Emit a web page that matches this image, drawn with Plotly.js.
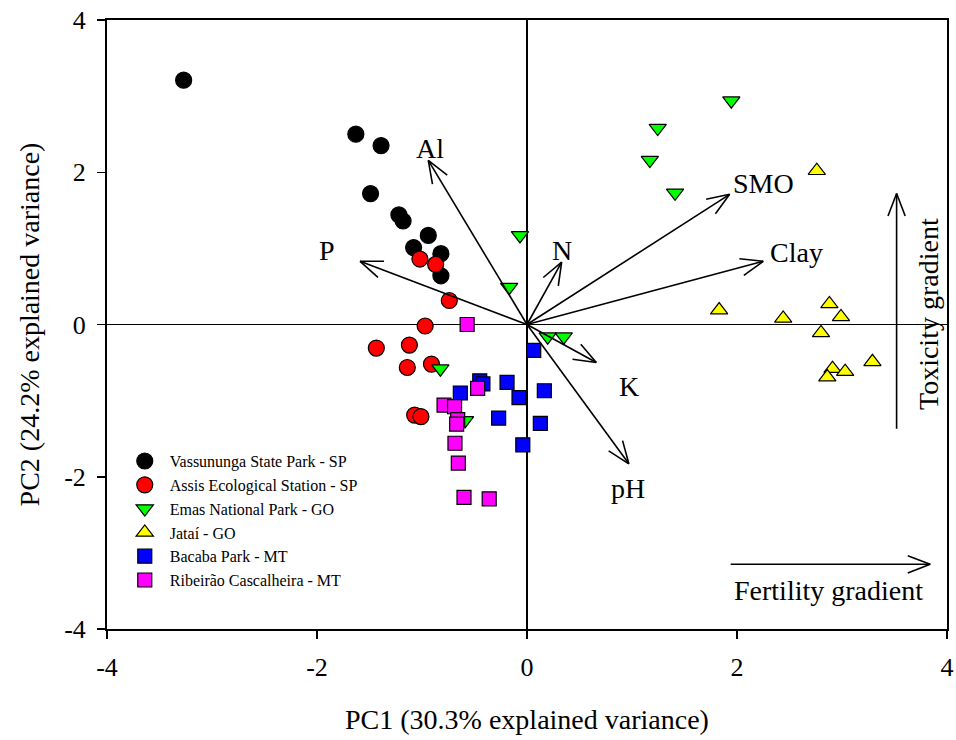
<!DOCTYPE html>
<html><head><meta charset="utf-8">
<script src="https://cdn.plot.ly/plotly-3.0.1.min.js"></script>
<style>body{margin:0;background:#fff}#chart{width:956px;height:740px}</style>
</head><body><div id="chart"></div>
<script>
// ---- data ----
const vassX = [-3.27, -1.63, -1.39, -1.49, -1.22, -1.18, -0.94, -1.08, -0.82, -0.82];
const vassY = [3.21, 2.50, 2.35, 1.72, 1.44, 1.36, 1.17, 1.01, 0.93, 0.64];
const assisX = [-1.02, -0.87, -0.74, -0.97, -1.435, -1.12, -1.14, -0.91, -1.07, -1.01];
const assisY = [0.86, 0.79, 0.315, -0.02, -0.31, -0.27, -0.565, -0.52, -1.19, -1.21];
const emasX = [1.946, 1.245, 1.17, 1.41, -0.067, -0.17, 0.197, 0.35, -0.825, -0.59];
const emasY = [2.94, 2.58, 2.16, 1.73, 1.17, 0.49, -0.16, -0.16, -0.58, -1.26];
const jataiX = [2.76, 1.83, 2.44, 2.88, 2.99, 2.80, 3.29, 2.91, 3.03, 2.86];
const jataiY = [2.02, 0.19, 0.08, 0.27, 0.10, -0.11, -0.49, -0.58, -0.62, -0.69];
const bacabaX = [0.064, -0.19, -0.076, 0.165, -0.27, 0.127, -0.04, -0.45, -0.42, -0.635];
const bacabaY = [-0.34, -0.76, -0.96, -0.87, -1.23, -1.30, -1.58, -0.74, -0.78, -0.90];
const ribX = [-0.57, -0.47, -0.79, -0.69, -0.66, -0.67, -0.686, -0.654, -0.60, -0.36];
const ribY = [0.0, -0.84, -1.06, -1.08, -1.25, -1.31, -1.56, -1.82, -2.27, -2.29];

const groupNames = ["Vassununga State Park - SP", "Assis Ecological Station - SP", "Emas National Park - GO",
  "Jataí - GO", "Bacaba Park - MT", "Ribeirão Cascalheira - MT"];

const vecNames = ["Al", "P", "N", "SMO", "Clay", "K", "pH"];
const vecX = [-0.94, -1.59, 0.33, 1.93, 2.25, 0.66, 0.97];
const vecY = [2.155, 0.83, 0.82, 1.71, 0.83, -0.50, -1.83];
const vecLabelX = [-0.92, -1.905, 0.333, 2.257, 2.57, 0.975, 0.965];
const vecLabelY = [2.31, 0.97, 0.97, 1.85, 0.95, -0.815, -2.16];

const gradNames = ["Toxicity gradient", "Fertility gradient"];
const gradX0 = [3.52, 1.94], gradY0 = [-1.37, -3.15];
const gradX1 = [3.52, 3.84], gradY1 = [1.72, -3.15];
const gradLabelX = [3.83, 2.87], gradLabelY = [0.14, -3.50];

const tickVals = [-4, -2, 0, 2, 4];
const tickText = ["-4", "-2", "0", "2", "4"];

// ---- layout geometry ----
const W = 956, H = 740;
const M = {l: 107, r: 9, t: 20, b: 111};
const xr = [-4, 4], yr = [-4, 4];
const sx = (W - M.l - M.r) / (xr[1] - xr[0]);
const sy = (H - M.t - M.b) / (yr[1] - yr[0]);

const FONT = '"Liberation Serif", "Times New Roman", serif';

function mk(x, y, name, symbol, color, size) {
  return {x, y, name, type: 'scatter', mode: 'markers',
    marker: {symbol, color, size, line: {color: '#000', width: 1.2}}};
}
const traces = [
  mk(vassX, vassY, groupNames[0], 'circle', '#000000', 16),
  mk(assisX, assisY, groupNames[1], 'circle', '#ff0000', 16),
  mk(emasX, emasY, groupNames[2], 'triangle-down', '#00ff00', 15),
  mk(jataiX, jataiY, groupNames[3], 'triangle-up', '#ffff00', 15),
  mk(bacabaX, bacabaY, groupNames[4], 'square', '#0000ff', 14),
  mk(ribX, ribY, groupNames[5], 'square', '#ff00ff', 14)
];

const shapes = [];
const annotations = [];
const LINE = {color: '#000', width: 1.6};
function seg(x0, y0, x1, y1) {
  shapes.push({type: 'line', xref: 'x', yref: 'y', x0, y0, x1, y1, line: LINE, layer: 'above'});
}
function arrow(x0, y0, x1, y1) {
  seg(x0, y0, x1, y1);
  const dx = (x1 - x0) * sx, dy = (y1 - y0) * sy;
  const len = Math.hypot(dx, dy);
  const bx = -dx / len, by = -dy / len;
  const L = 24, a = 21 * Math.PI / 180;
  [1, -1].forEach(s => {
    const rx = bx * Math.cos(a) - by * Math.sin(a) * s;
    const ry = bx * Math.sin(a) * s + by * Math.cos(a);
    seg(x1, y1, x1 + L * rx / sx, y1 + L * ry / sy);
  });
}
vecNames.forEach((n, i) => {
  arrow(0, 0, vecX[i], vecY[i]);
  annotations.push({x: vecLabelX[i], y: vecLabelY[i], xref: 'x', yref: 'y', text: n, showarrow: false,
    font: {family: FONT, size: 28, color: '#000'}});
});
gradNames.forEach((n, i) => {
  arrow(gradX0[i], gradY0[i], gradX1[i], gradY1[i]);
  annotations.push({x: gradLabelX[i], y: gradLabelY[i], xref: 'x', yref: 'y', text: n, showarrow: false,
    textangle: i === 0 ? -90 : 0, font: {family: FONT, size: 28, color: '#000'}});
});

const axisCommon = {
  range: xr, tickvals: tickVals, ticktext: tickText, ticks: 'outside', ticklen: 8, tickwidth: 1.5,
  tickcolor: '#000', showline: true, mirror: true, linewidth: 2, linecolor: '#000',
  zeroline: true, zerolinewidth: 1.6, zerolinecolor: '#000', showgrid: false,
  tickfont: {family: FONT, size: 26, color: '#000'}, ticklabelstandoff: 6
};
const layout = {
  width: W, height: H, margin: M, paper_bgcolor: '#fff', plot_bgcolor: '#fff',
  font: {family: FONT, color: '#000'},
  xaxis: Object.assign({}, axisCommon, {range: xr,
    title: {text: 'PC1 (30.3% explained variance)', font: {family: FONT, size: 28}, standoff: 28}}),
  yaxis: Object.assign({}, axisCommon, {range: yr,
    title: {text: 'PC2 (24.2% explained variance)', font: {family: FONT, size: 28}, standoff: 16}}),
  showlegend: true,
  legend: {x: 0.0152, y: 0.3036, xanchor: 'left', yanchor: 'top', bgcolor: 'rgba(0,0,0,0)',
    font: {family: FONT, size: 16, color: '#000'}, itemwidth: 40, tracegroupgap: 0},
  shapes, annotations
};
Plotly.newPlot('chart', traces, layout, {displayModeBar: false, staticPlot: true});
</script></body></html>
